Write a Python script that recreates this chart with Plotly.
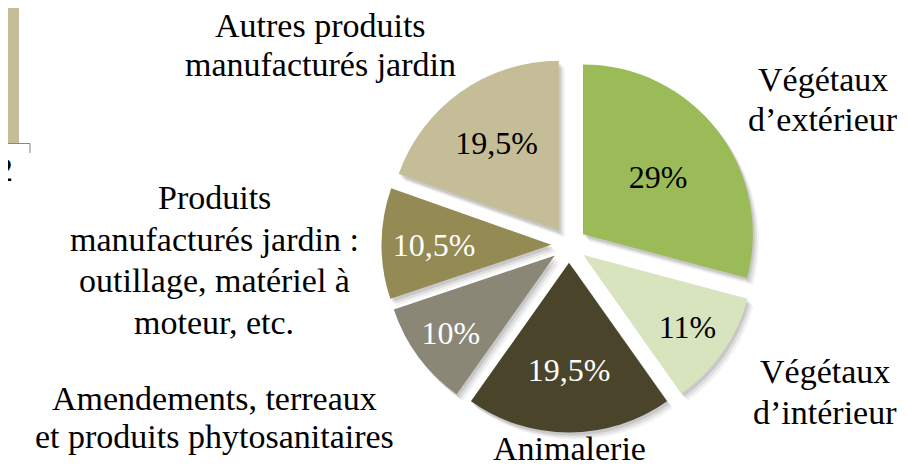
import plotly.graph_objects as go

# ---- data ----
categories = [
    "Végétaux<br>d’extérieur",
    "Végétaux<br>d’intérieur",
    "Animalerie",
    "Amendements, terreaux<br>et produits phytosanitaires",
    "Produits<br>manufacturés jardin :<br>outillage, matériel à<br>moteur, etc.",
    "Autres produits<br>manufacturés jardin",
]
values = [29, 11, 19.5, 10, 10.5, 19.5]
pct_labels = ["29%", "11%", "19,5%", "10%", "10,5%", "19,5%"]

# ---- styles ----
colors = ["#9BBB59", "#D7E4BD", "#4A452A", "#8A8777", "#948A54", "#C4BD97"]
text_colors = ["black", "black", "white", "white", "white", "black"]
FONT = "Liberation Serif"
W, H = 908, 472

# pie box in pixels (center x, center y from top, box size)
CX, CY, BOX = 561, 237, 375
PULL = 0.104


def dom(dx=0, dy=0):
    x0 = (CX - BOX / 2 + dx) / W
    x1 = (CX + BOX / 2 + dx) / W
    y0 = 1 - (CY + BOX / 2 + dy) / H
    y1 = 1 - (CY - BOX / 2 + dy) / H
    return dict(x=[x0, x1], y=[y0, y1])


fig = go.Figure()

# soft shadow layers
for dx, dy, a in [(6, 7, 0.05), (4, 5, 0.08), (2, 3, 0.10)]:
    fig.add_trace(go.Pie(
        labels=categories, values=values, sort=False, direction="clockwise",
        rotation=0, pull=[PULL] * len(values), domain=dom(dx, dy),
        marker=dict(colors=[f"rgba(0,0,0,{a})"] * len(values), line=dict(width=0)),
        textinfo="none", hoverinfo="skip", showlegend=False,
    ))

fig.add_trace(go.Pie(
    labels=categories, values=values, sort=False, direction="clockwise",
    rotation=0, pull=[PULL] * len(values), domain=dom(),
    marker=dict(colors=colors, line=dict(width=0)),
    text=pct_labels, textinfo="text", textposition="inside",
    insidetextorientation="horizontal",
    textfont=dict(family=FONT, size=32, color=text_colors),
    hoverinfo="label+text", showlegend=False,
))

# outside category labels: (center x, first baseline y, line spacing) in px
label_pos = [
    (815, 91, 40),
    (817, 383, 41),
    (561, 460, 40),
    (206, 410, 38),
    (206, 209, 41.5),
    (312, 37, 39),
]
FS = 34
MID = 0.3375 * FS + 8   # baseline -> box middle offset
annotations = []
for cat, (lx, by, sp) in zip(categories, label_pos):
    for i, line in enumerate(cat.split("<br>")):
        yb = by + i * sp
        annotations.append(dict(
            text=line, x=lx / W, y=1 - (yb - MID) / H,
            xref="paper", yref="paper", xanchor="center", yanchor="middle",
            showarrow=False, font=dict(family=FONT, size=FS, color="black"),
        ))

# fragment of a neighbouring chart at the top-left edge
annotations.append(dict(
    text="2", x=7 / W, y=1 - (181 - MID) / H, xref="paper", yref="paper",
    xanchor="right", yanchor="middle", showarrow=False,
    font=dict(family=FONT, size=FS, color="black"),
))
shapes = [
    dict(type="rect", xref="paper", yref="paper", x0=0, x1=11 / W,
         y0=1 - 135 / H, y1=1, fillcolor="#C4BD97", line=dict(width=0)),
    dict(type="line", xref="paper", yref="paper", x0=0, x1=22 / W,
         y0=1 - 135.5 / H, y1=1 - 135.5 / H, line=dict(color="#868686", width=1)),
    dict(type="line", xref="paper", yref="paper", x0=22 / W, x1=22 / W,
         y0=1 - 135.5 / H, y1=1 - 145 / H, line=dict(color="#868686", width=1)),
]

fig.update_layout(
    width=W, height=H, margin=dict(l=0, r=0, t=0, b=0),
    paper_bgcolor="white", plot_bgcolor="white",
    showlegend=False, annotations=annotations, shapes=shapes,
    uniformtext=dict(minsize=32, mode="show"),
)

fig.write_html("out.html")
